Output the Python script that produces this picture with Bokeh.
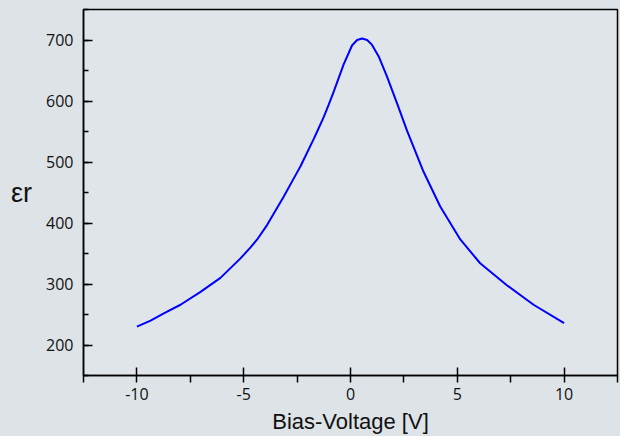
from bokeh.plotting import figure
from bokeh.models import Range1d, SingleIntervalTicker
from bokeh.embed import file_html
from bokeh.resources import INLINE

# Data
voltage = [-10, -9.36, -8.74, -7.96, -7.02, -6.09, -5.15, -4.68, -4.37, -3.90,
           -3.13, -2.50, -2.34, -1.72, -1.56, -1.25, -1.02, -0.79, -0.32, 0.07,
           0.31, 0.54, 0.78, 1.01, 1.32, 1.71, 2.18, 2.65, 3.42, 4.20,
           5.14, 6.07, 7.32, 8.57, 10]
epsilon_r = [230, 240, 252, 266, 287, 310, 342, 360, 373, 397,
             443, 483, 493, 538, 550, 574, 594, 615, 660, 691,
             700, 702.5, 700, 692, 673, 640, 596, 551, 484, 427,
             373, 334, 298, 266, 236]

x_tick_values = [-10, -5, 0, 5, 10]
x_tick_labels = ["-10", "-5", "0", "5", "10"]
x_title = "Bias-Voltage [V]"
y_title = "εr"

BG = "#dde3e6"

p = figure(width=620, height=436, output_backend="svg", toolbar_location=None,
           x_range=Range1d(-12.5, 12.5), y_range=Range1d(150, 750),
           min_border_left=83, min_border_right=3, min_border_top=9,
           min_border_bottom=59,
           background_fill_color="#dfe5e8", border_fill_color=BG,
           outline_line_color="black", outline_line_width=1.5)
p.xgrid.visible = False
p.ygrid.visible = False

p.line(voltage, epsilon_r, line_color="#0000ff", line_width=2)

xa = p.xaxis[0]
xa.ticker = SingleIntervalTicker(interval=5, num_minor_ticks=2)
xa.major_label_overrides = {v: s for v, s in zip(x_tick_values, x_tick_labels)}
xa.axis_label = x_title
xa.axis_label_text_font = "Liberation Sans"
xa.axis_label_text_font_style = "normal"
xa.axis_label_text_font_size = "22px"
xa.axis_label_text_color = "#111111"
xa.axis_label_standoff = 6
xa.major_tick_in = 8
xa.major_tick_out = 0
xa.minor_tick_in = 0
xa.minor_tick_out = 7

ya = p.yaxis[0]
ya.ticker = SingleIntervalTicker(interval=100, num_minor_ticks=2)
ya.major_tick_in = 9
ya.major_tick_out = 0
ya.minor_tick_in = 5
ya.minor_tick_out = 0
ya.axis_label = y_title
ya.axis_label_orientation = "horizontal"
ya.axis_label_text_font = "Liberation Sans"
ya.axis_label_text_font_style = "normal"
ya.axis_label_text_font_size = "27px"
ya.axis_label_text_color = "#111111"
ya.axis_label_standoff = 11

for ax in (xa, ya):
    ax.axis_line_color = "black"
    ax.axis_line_width = 1.5
    ax.major_tick_line_color = "black"
    ax.major_tick_line_width = 1.5
    ax.minor_tick_line_color = "black"
    ax.minor_tick_line_width = 1.5
    ax.major_label_text_font = "Open Sans"
    ax.major_label_text_font_size = "16px"
    ax.major_label_text_color = "#111111"
xa.major_label_standoff = 5
ya.major_label_standoff = 10

page_template = """{% block preamble %}<style>html, body { margin: 0; padding: 0; background: #dde3e6; }</style>{% endblock %}"""

open("out.html", "w").write(file_html(p, INLINE, template=page_template))
